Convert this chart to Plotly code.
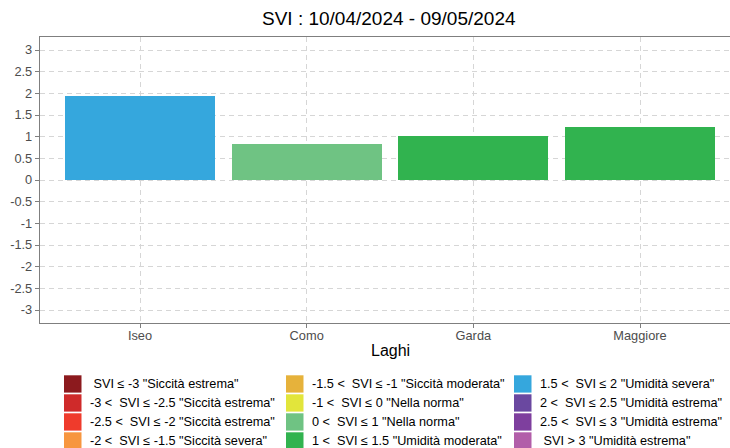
import plotly.graph_objects as go

# ---- data ----
laghi = ["Iseo", "Como", "Garda", "Maggiore"]
svi_values = [1.95, 0.84, 1.01, 1.22]
bar_colors = ["#35a7dd", "#6fc383", "#31b34f", "#31b34f"]

legend_labels = [
    ' SVI ≤ -3 "Siccità estrema"',
    '-3 <  SVI ≤ -2.5 "Siccità estrema"',
    '-2.5 <  SVI ≤ -2 "Siccità estrema"',
    '-2 <  SVI ≤ -1.5 "Siccità severa"',
    '-1.5 <  SVI ≤ -1 "Siccità moderata"',
    '-1 <  SVI ≤ 0 "Nella norma"',
    '0 <  SVI ≤ 1 "Nella norma"',
    '1 <  SVI ≤ 1.5 "Umidità moderata"',
    '1.5 <  SVI ≤ 2 "Umidità severa"',
    '2 <  SVI ≤ 2.5 "Umidità estrema"',
    '2.5 <  SVI ≤ 3 "Umidità estrema"',
    ' SVI > 3 "Umidità estrema"',
]
legend_colors = [
    "#8c1a1e", "#cf2a2a", "#ef3b2c", "#f7963f",
    "#e6b23b", "#e2e53b", "#6fc383", "#31b34f",
    "#35a7dd", "#6a48a0", "#7e3f9e", "#b25ea9",
]

y_tickvals = [3, 2.5, 2, 1.5, 1, 0.5, 0, -0.5, -1, -1.5, -2, -2.5, -3]
y_ticktext = ["3", "2.5", "2", "1.5", "1", "0.5", "0", "-0.5", "-1", "-1.5", "-2", "-2.5", "-3"]

title_text = "SVI : 10/04/2024 - 09/05/2024"
x_title = "Laghi"

# ---- layout geometry (pixels) ----
W, H = 730, 448
L, R, T, B = 40, 730, 36.7, 322.7

def px_x(x):
    return (x - L) / (R - L)

def px_y(y):
    return (B - y) / (B - T)

FONT = "Liberation Sans, Arial, sans-serif"

fig = go.Figure()
fig.add_trace(go.Bar(
    x=laghi, y=svi_values, width=0.9,
    marker=dict(color=bar_colors, line=dict(width=0)),
    showlegend=False,
))

shapes = []
annotations = []

# manual legend, 3 columns x 4 rows, column-major
col_swatch_x = [64, 286, 514]
row_top = [375, 394, 413, 432]
sw_w, sw_h = 17.5, 17.3
for i, (lab, col) in enumerate(zip(legend_labels, legend_colors)):
    c, r = divmod(i, 4)
    x0 = col_swatch_x[c]
    y0 = row_top[r]
    shapes.append(dict(type="rect", xref="paper", yref="paper",
                       x0=px_x(x0), x1=px_x(x0 + sw_w),
                       y0=px_y(y0 + sw_h), y1=px_y(y0),
                       fillcolor=col, line=dict(width=0), layer="above"))
    annotations.append(dict(text=lab, xref="paper", yref="paper",
                            x=px_x(x0 + sw_w + 6.5), y=px_y(y0 + sw_h / 2),
                            xanchor="left", yanchor="middle", showarrow=False,
                            font=dict(family=FONT, size=12.7, color="#000000")))

# axis title centred on the (full) panel
annotations.append(dict(text=x_title, xref="paper", yref="paper",
                        x=px_x(390), y=px_y(350), xanchor="center", yanchor="middle",
                        showarrow=False, font=dict(family=FONT, size=16, color="#000000")))
# title
annotations.append(dict(text=title_text, xref="paper", yref="paper",
                        x=px_x(389), y=px_y(18), xanchor="center", yanchor="middle",
                        showarrow=False, font=dict(family=FONT, size=19, color="#000000")))

fig.update_layout(
    width=W, height=H, autosize=False,
    margin=dict(l=L, r=W - R, t=T, b=H - B, pad=0),
    paper_bgcolor="white", plot_bgcolor="white",
    font=dict(family=FONT),
    bargap=0,
    shapes=shapes, annotations=annotations,
    showlegend=False,
    hovermode=False,
)
fig.update_xaxes(
    range=[-0.6, 3.54], automargin=False,
    showline=True, linecolor="#7f7f7f", linewidth=1.2, mirror=True,
    ticks="outside", ticklen=4, tickcolor="#7f7f7f",
    ticklabelstandoff=-4,
    tickfont=dict(family=FONT, size=12.8, color="#4d4d4d"),
    showgrid=True, gridcolor="#d6d6d6", gridwidth=1, griddash="5px,4px",
)
fig.update_yaxes(
    range=[-3.3, 3.3], automargin=False,
    tickvals=y_tickvals, ticktext=y_ticktext,
    showline=True, linecolor="#7f7f7f", linewidth=1.2, mirror=False,
    ticks="outside", ticklen=4, tickcolor="#7f7f7f",
    tickfont=dict(family=FONT, size=12.8, color="#4d4d4d"),
    showgrid=True, gridcolor="#d6d6d6", gridwidth=1, griddash="5px,4px",
    zeroline=False,
)

fig.write_html(
    "out.html",
    config={"displayModeBar": False, "staticPlot": True},
    post_script="document.body.style.margin='0';document.body.style.padding='0';document.body.style.overflow='hidden';",
)
